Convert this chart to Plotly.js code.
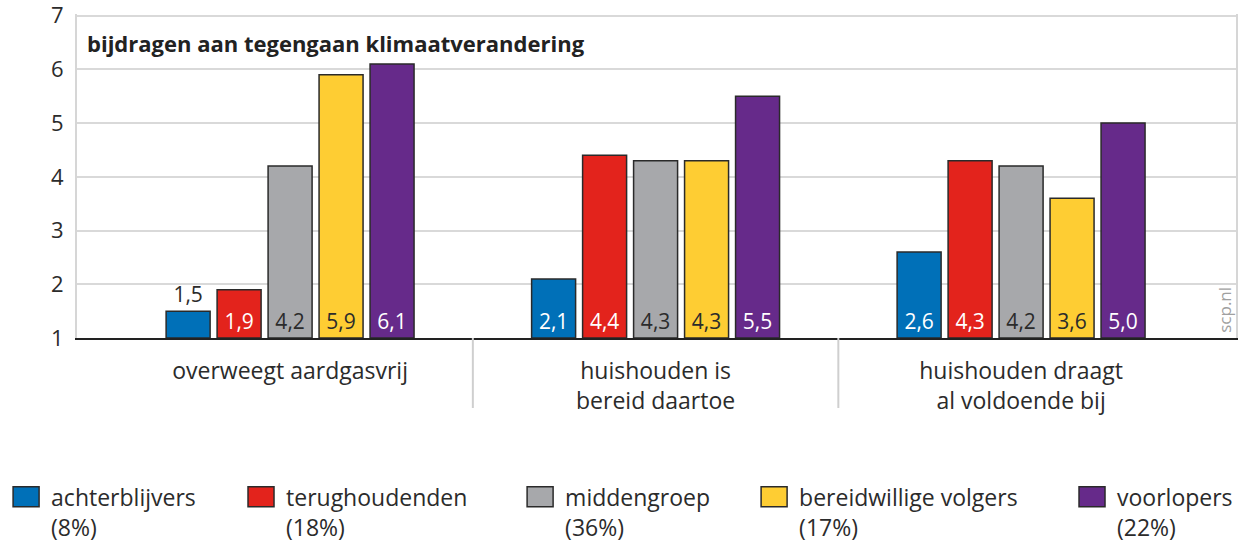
<!DOCTYPE html>
<html>
<head>
<meta charset="utf-8">
<script src="https://cdn.plot.ly/plotly-3.0.1.min.js"></script>
<style>
html,body{margin:0;padding:0;background:#fff;}
#chart{width:1242px;height:543px;}
</style>
</head>
<body>
<div id="chart"></div>
<script>
const categories = ['overweegt aardgasvrij', 'huishouden is<br>bereid daartoe', 'huishouden draagt<br>al voldoende bij'];
const seriesNames = ['achterblijvers', 'terughoudenden', 'middengroep', 'bereidwillige volgers', 'voorlopers'];
const seriesShares = ['(8%)', '(18%)', '(36%)', '(17%)', '(22%)'];
const achterblijvers = [1.5, 2.1, 2.6];
const terughoudenden = [1.9, 4.4, 4.3];
const middengroep = [4.2, 4.3, 4.2];
const bereidwilligeVolgers = [5.9, 4.3, 3.6];
const voorlopers = [6.1, 5.5, 5.0];
const seriesValues = [achterblijvers, terughoudenden, middengroep, bereidwilligeVolgers, voorlopers];
const yTicks = [1, 2, 3, 4, 5, 6, 7];
const chartTitle = 'bijdragen aan tegengaan klimaatverandering';
const sourceLabel = 'scp.nl';

const colors = ['#0070b8', '#e3231c', '#a7a8ab', '#fecd33', '#662a8a'];
const insideTextColors = ['#ffffff', '#ffffff', '#2b2b2b', '#2b2b2b', '#ffffff'];
const legendX = [-0.0655, 0.1372, 0.378, 0.5799, 0.8542];
const FONT = '"Open Sans", "Noto Sans", sans-serif';

const baseline = yTicks[0];
const traces = seriesValues.map((vals, i) => ({
  type: 'bar',
  name: seriesNames[i] + '<br>' + seriesShares[i],
  x: categories,
  base: baseline,
  y: vals.map(v => v - baseline),
  text: vals.map(v => v.toFixed(1).replace('.', ',')),
  customdata: vals,
  hovertemplate: seriesNames[i] + ': %{customdata}<extra></extra>',
  textposition: vals.map(v => (v - baseline < 0.7 ? 'outside' : 'inside')),
  insidetextanchor: 'start',
  constraintext: 'none',
  textangle: 0,
  insidetextfont: {family: FONT, size: 21, color: insideTextColors[i]},
  outsidetextfont: {family: FONT, size: 21, color: '#2b2b2b'},
  cliponaxis: false,
  marker: {color: colors[i], line: {color: '#2a2a2a', width: 1.5}},
  legend: i === 0 ? 'legend' : 'legend' + (i + 1)
}));

function legendCfg(x) {
  return {
    x: x, xanchor: 'left', y: -0.424, yanchor: 'top',
    orientation: 'v', valign: 'top', itemwidth: 40,
    bgcolor: 'rgba(0,0,0,0)', borderwidth: 0,
    font: {family: FONT, size: 23, color: '#2b2b2b'}
  };
}

const layout = {
  width: 1242, height: 543,
  margin: {l: 77, r: 6, t: 14, b: 205, autoexpand: false},
  paper_bgcolor: '#ffffff', plot_bgcolor: '#ffffff',
  font: {family: FONT, color: '#2b2b2b'},
  barmode: 'group',
  bargap: 0.3025,
  bargroupgap: 0.137,
  showlegend: true,
  xaxis: {
    type: 'category',
    range: [-0.583, 2.588],
    showgrid: false, zeroline: false,
    showline: true, linecolor: '#222222', linewidth: 2,
    ticks: '', ticklabelstandoff: 11,
    tickfont: {family: FONT, size: 23, color: '#2b2b2b'}
  },
  yaxis: {
    range: [1, 7.03],
    tickvals: yTicks,
    ticktext: yTicks.map(String),
    showgrid: true, gridcolor: '#d9d9d9', gridwidth: 2,
    zeroline: false,
    showline: true, linecolor: '#d6d6d6', linewidth: 2, mirror: true,
    ticks: '', ticklabelstandoff: 7,
    ticklabeloverflow: 'allow',
    tickfont: {family: FONT, size: 22, color: '#2b2b2b'}
  },
  legend: legendCfg(legendX[0]),
  legend2: legendCfg(legendX[1]),
  legend3: legendCfg(legendX[2]),
  legend4: legendCfg(legendX[3]),
  legend5: legendCfg(legendX[4]),
  shapes: [0.5, 1.5].map(xv => ({
    type: 'line', xref: 'x', yref: 'paper',
    x0: xv, x1: xv, y0: 0, y1: -0.216,
    line: {color: '#cfcfcf', width: 2}
  })),
  annotations: [
    {
      text: '<b>' + chartTitle + '</b>',
      xref: 'paper', yref: 'paper', x: 0.007, y: 0.91,
      xanchor: 'left', yanchor: 'middle', showarrow: false,
      font: {family: FONT, size: 22, color: '#222222'}
    },
    {
      text: sourceLabel,
      xref: 'paper', yref: 'paper', x: 0.9905, y: 0.01,
      xanchor: 'center', yanchor: 'bottom', textangle: -90, showarrow: false,
      font: {family: FONT, size: 17, color: '#a0a0a0'}
    }
  ]
};

Plotly.newPlot('chart', traces, layout, {displayModeBar: false, staticPlot: true}).then(gd => {
  // enlarge the legend swatches to the reference's 26x20 rectangles
  gd.querySelectorAll('.legendpoints path').forEach(p => p.setAttribute('d', 'M13,10H-13V-10H13Z'));
});
</script>
</body>
</html>
